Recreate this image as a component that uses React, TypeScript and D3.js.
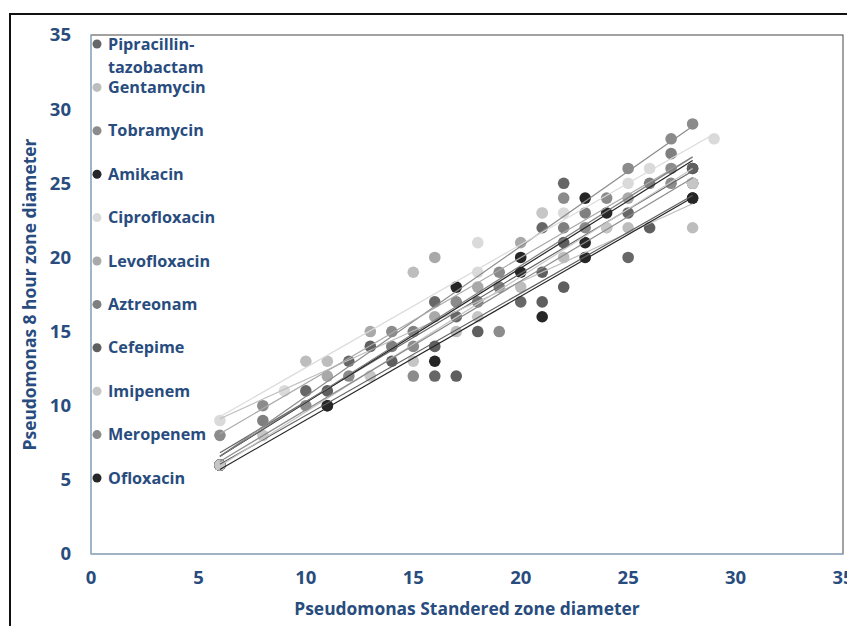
import { useEffect, useRef } from "react";
import * as d3 from "d3";

// series names in legend order
const names = [
  "Pipracillin-tazobactam",
  "Gentamycin",
  "Tobramycin",
  "Amikacin",
  "Ciprofloxacin",
  "Levofloxacin",
  "Aztreonam",
  "Cefepime",
  "Imipenem",
  "Meropenem",
  "Ofloxacin",
];
const greys = ["#676767", "#bdbdbd", "#8b8b8b", "#262626", "#dadada", "#a9a9a9", "#7f7f7f", "#5f5f5f", "#c6c6c6", "#8c8c8c", "#262626"];

// [standard zone, 8 hour zone]
const pipracillin = [[6, 6], [10, 11], [12, 13], [16, 12], [16, 17], [17, 16], [20, 17], [21, 22], [22, 25], [25, 23], [25, 20], [28, 26]];
const gentamycin = [[6, 6], [10, 13], [11, 13], [15, 19], [17, 15], [20, 18], [22, 20], [25, 22], [28, 22]];
const tobramycin = [[6, 6], [8, 10], [12, 12], [14, 15], [17, 17], [19, 19], [22, 24], [24, 24], [25, 26], [27, 28], [28, 29]];
const amikacin = [[6, 6], [11, 10], [17, 18], [20, 20], [23, 24], [24, 23], [28, 24]];
const ciprofloxacin = [[6, 9], [9, 11], [18, 21], [18, 19], [21, 23], [22, 23], [24, 22], [25, 25], [26, 26], [29, 28]];
const levofloxacin = [[6, 6], [11, 12], [13, 15], [16, 16], [16, 20], [18, 18], [20, 21], [25, 24], [28, 25]];
const aztreonam = [[6, 6], [8, 9], [14, 14], [15, 15], [18, 17], [19, 18], [22, 22], [23, 23], [26, 25], [27, 27], [28, 25]];
const cefepime = [[6, 6], [11, 11], [13, 14], [14, 13], [16, 14], [17, 12], [18, 15], [21, 19], [21, 17], [22, 21], [22, 18], [26, 22], [28, 26]];
const imipenem = [[6, 6], [8, 8], [13, 12], [15, 13], [18, 16], [21, 23], [24, 22], [28, 25]];
const meropenem = [[6, 8], [10, 10], [15, 14], [15, 12], [19, 15], [23, 22], [27, 26], [27, 25], [28, 25]];
const ofloxacin = [[6, 6], [11, 10], [16, 13], [20, 19], [21, 16], [23, 21], [23, 20], [28, 24]];

const seriesData = [pipracillin, gentamycin, tobramycin, amikacin, ciprofloxacin, levofloxacin, aztreonam, cefepime, imipenem, meropenem, ofloxacin];
// marker paint order, so the light Imipenem marker stays on top at (6, 6)
const markerOrder = [0, 1, 2, 3, 4, 5, 6, 7, 9, 10, 8];
const ticks = [0, 5, 10, 15, 20, 25, 30, 35];

const BLUE = "#284c7e";
const FONT = "'Open Sans', sans-serif";

export default function App() {
  const ref = useRef<SVGSVGElement>(null);
  useEffect(() => {
    if (!ref.current) return;
    const svg = d3.select(ref.current);
    svg.selectAll("*").remove();
    const w = 847, h = 626;
    const m = { t: 35, r: 4, b: 72, l: 91 };

    const x = d3.scaleLinear().domain([0, 35]).range([m.l, w - m.r]);
    const y = d3.scaleLinear().domain([0, 35]).range([h - m.b, m.t]);

    svg.append("rect").attr("width", w).attr("height", h).attr("fill", "#fff");
    // outer chart border
    svg.append("rect")
      .attr("x", 10).attr("y", 14).attr("width", w + 20).attr("height", h + 20)
      .attr("fill", "none").attr("stroke", "#111").attr("stroke-width", 2);

    // plot area border
    svg.append("rect")
      .attr("x", x(0)).attr("y", y(35)).attr("width", x(35) - x(0)).attr("height", y(0) - y(35))
      .attr("fill", "none").attr("stroke", "#444").attr("stroke-width", 1);

    // axes
    svg.append("line").attr("x1", x(0)).attr("x2", x(0)).attr("y1", y(0)).attr("y2", y(35))
      .attr("stroke", "#9dc3e6").attr("stroke-width", 1.2);
    svg.append("line").attr("x1", x(0)).attr("x2", x(35)).attr("y1", y(0)).attr("y2", y(0))
      .attr("stroke", "#9dc3e6").attr("stroke-width", 1.2);

    svg.append("g").selectAll("text").data(ticks).join("text")
      .attr("x", (d) => x(d)).attr("y", 578).attr("dy", "0.35em")
      .attr("text-anchor", "middle").attr("font-family", FONT).attr("font-weight", 700)
      .attr("font-size", 18.5).attr("fill", BLUE).text((d) => d);
    svg.append("g").selectAll("text").data(ticks).join("text")
      .attr("x", 71).attr("y", (d) => y(d)).attr("dy", "0.35em")
      .attr("text-anchor", "end").attr("font-family", FONT).attr("font-weight", 700)
      .attr("font-size", 18.5).attr("fill", BLUE).text((d) => d);

    svg.append("text")
      .attr("x", (x(0) + x(35)) / 2).attr("y", 609).attr("dy", "0.35em")
      .attr("text-anchor", "middle").attr("font-family", FONT).attr("font-weight", 700)
      .attr("font-size", 17.4).attr("fill", BLUE).text("Pseudomonas Standered zone diameter");
    svg.append("text")
      .attr("transform", `translate(30,${(y(0) + y(35)) / 2}) rotate(-90)`).attr("dy", "0.35em")
      .attr("text-anchor", "middle").attr("font-family", FONT).attr("font-weight", 700)
      .attr("font-size", 17.4).attr("fill", BLUE).text("Pseudomonas 8 hour zone diameter");

    // markers
    markerOrder.forEach((i) => {
      svg.append("g").selectAll("circle").data(seriesData[i]).join("circle")
        .attr("cx", (d) => x(d[0])).attr("cy", (d) => y(d[1])).attr("r", 5.8)
        .attr("fill", greys[i]);
    });

    // linear trendlines
    seriesData.forEach((pts, i) => {
      const mx = d3.mean(pts, (d) => d[0])!;
      const my = d3.mean(pts, (d) => d[1])!;
      const sxy = d3.sum(pts, (d) => (d[0] - mx) * (d[1] - my));
      const sxx = d3.sum(pts, (d) => (d[0] - mx) ** 2);
      const b = sxy / sxx;
      const a = my - b * mx;
      const [x0, x1] = d3.extent(pts, (d) => d[0]) as [number, number];
      svg.append("line")
        .attr("x1", x(x0)).attr("y1", y(a + b * x0))
        .attr("x2", x(x1)).attr("y2", y(a + b * x1))
        .attr("stroke", greys[i]).attr("stroke-width", 1.2);
    });

    // legend
    const ly = d3.scalePoint<string>().domain(names).range([44, 478]);
    const lg = svg.append("g");
    names.forEach((n, i) => {
      lg.append("circle").attr("cx", 97).attr("cy", ly(n)!).attr("r", 4.5).attr("fill", greys[i]);
      const parts = n === "Pipracillin-tazobactam" ? ["Pipracillin-", "tazobactam"] : [n];
      parts.forEach((p, k) => {
        lg.append("text").attr("x", 108).attr("y", ly(n)! + k * 23).attr("dy", "0.35em")
          .attr("font-family", FONT).attr("font-weight", 700).attr("font-size", 16.2)
          .attr("fill", BLUE).text(p);
      });
    });
  }, []);
  return (
    <svg ref={ref} width={847} height={626} viewBox="0 0 847 626"
      style={{ position: "absolute", left: 0, top: 0, display: "block" }} />
  );
}
